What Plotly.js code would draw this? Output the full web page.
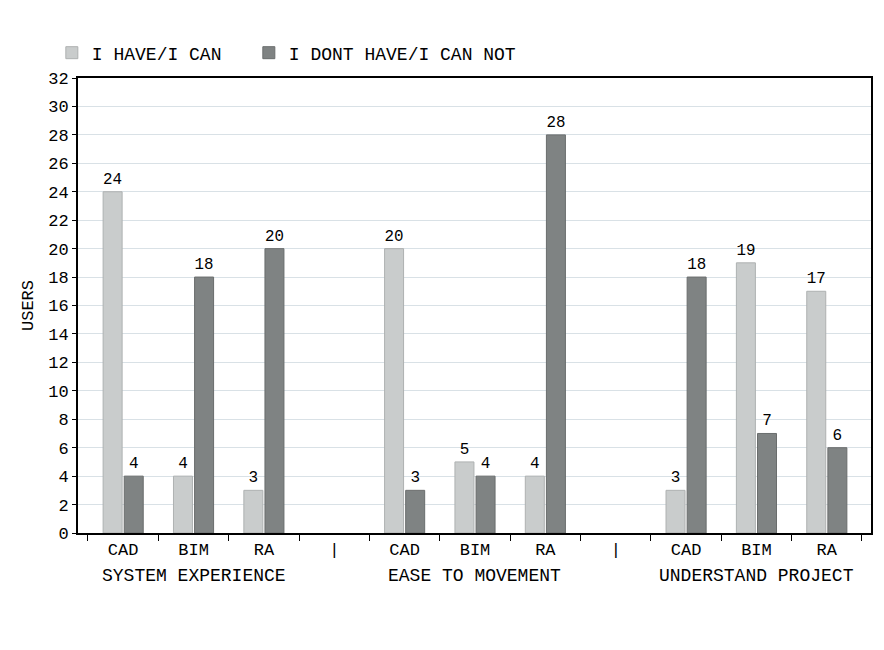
<!DOCTYPE html>
<html>
<head>
<meta charset="utf-8">
<script src="https://cdn.plot.ly/plotly-3.0.1.min.js"></script>
<style>html,body{margin:0;padding:0;background:#fff;}#chart{width:884px;height:650px;}</style>
</head>
<body>
<div id="chart"></div>
<script>
// ---- data ----
var groups = ["SYSTEM EXPERIENCE", "EASE TO MOVEMENT", "UNDERSTAND PROJECT"];
var categories = ["CAD", "BIM", "RA", "|", "CAD", "BIM", "RA", "|", "CAD", "BIM", "RA"];
var seriesNames = ["I HAVE/I CAN", "I DONT HAVE/I CAN NOT"];
var haveValues = [24, 4, 3, null, 20, 5, 4, null, 3, 19, 17];
var dontValues = [4, 18, 20, null, 3, 4, 28, null, 18, 7, 6];
var yTickValues = [0, 2, 4, 6, 8, 10, 12, 14, 16, 18, 20, 22, 24, 26, 28, 30, 32];
var yTitle = "USERS";

// unique category keys (one per slot)
var xKeys = categories.map(function (c, i) { return "k" + i; });
var groupCenterKeys = [xKeys[1], xKeys[5], xKeys[9]];

var FONT = "Liberation Mono, Courier New, monospace";

function labels(vals) { return vals.map(function (v) { return v === null ? "" : String(v); }); }

var traces = [
  {
    type: "bar", name: seriesNames[0], x: xKeys, y: haveValues,
    text: labels(haveValues), textposition: "outside", cliponaxis: false,
    textfont: {family: FONT, size: 16, color: "#000"},
    marker: {color: "#c9cccc", line: {color: "#aeb1b1", width: 1}},
    legendwidth: 152,
    hoverinfo: "skip"
  },
  {
    type: "bar", name: seriesNames[1], x: xKeys, y: dontValues,
    text: labels(dontValues), textposition: "outside", cliponaxis: false,
    textfont: {family: FONT, size: 16, color: "#000"},
    marker: {color: "#7f8383", line: {color: "#6a6d6d", width: 1}},
    legendwidth: 260,
    hoverinfo: "skip"
  }
];

var annotations = groups.map(function (g, i) {
  return {
    text: g, x: groupCenterKeys[i], xref: "x", y: -0.095, yref: "paper",
    xanchor: "center", yanchor: "middle", showarrow: false,
    font: {family: FONT, size: 18, color: "#000"}
  };
});

var layout = {
  width: 884, height: 650,
  margin: {l: 78, r: 13, t: 78, b: 117, pad: 0},
  paper_bgcolor: "#fff", plot_bgcolor: "#fff",
  font: {family: FONT, size: 16, color: "#000"},
  barmode: "group", bargap: 0.4, bargroupgap: 0.1,
  showlegend: true,
  legend: {
    orientation: "h", x: -0.033, xanchor: "left", y: 1.055, yanchor: "middle",
    font: {family: FONT, size: 18, color: "#000"}, itemwidth: 30,
    traceorder: "normal", bgcolor: "rgba(0,0,0,0)"
  },
  xaxis: {
    type: "category", range: [-0.642, 10.628], fixedrange: true,
    tickmode: "array", tickvals: xKeys, ticktext: categories,
    tickson: "boundaries", ticks: "outside", ticklen: 6, tickwidth: 1, tickcolor: "#000",
    showline: true, linecolor: "#000", linewidth: 2, mirror: true,
    showgrid: false, zeroline: false,
    tickfont: {family: FONT, size: 17, color: "#000"}
  },
  yaxis: {
    range: [0, 32], tickmode: "array", tickvals: yTickValues, fixedrange: true,
    ticks: "outside", ticklen: 4, tickwidth: 1, tickcolor: "#000",
    showline: true, linecolor: "#000", linewidth: 2, mirror: true,
    showgrid: true, gridcolor: "#d9e1e6", gridwidth: 1, zeroline: false,
    tickfont: {family: FONT, size: 17, color: "#000"},
    title: {text: yTitle, font: {family: FONT, size: 17, color: "#000"}, standoff: 10}
  },
  annotations: annotations
};

Plotly.newPlot("chart", traces, layout, {displayModeBar: false, staticPlot: true});
</script>
</body>
</html>
